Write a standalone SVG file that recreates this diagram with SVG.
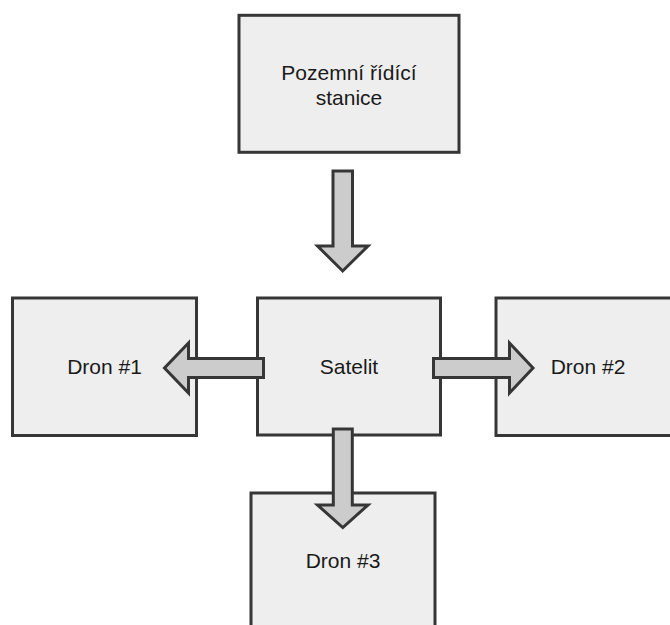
<svg xmlns="http://www.w3.org/2000/svg" width="670" height="625" viewBox="0 0 670 625">
<style>
.box{fill:#eeeeee;stroke:#363636;stroke-width:3}
.arr{fill:#cccccc;stroke:#363636;stroke-width:3;stroke-linejoin:miter}
.lbl{font-family:"Liberation Sans",Arial,sans-serif;font-size:21px;fill:#1a1a1a;text-anchor:middle}
</style>
<rect width="670" height="625" fill="#ffffff"/>
<g id="ground">
<rect class="box" x="239" y="15.3" width="220" height="137"/>
<text class="lbl" x="349" y="80">Pozemní řídící</text>
<text class="lbl" x="349" y="105">stanice</text>
</g>
<g id="dron1">
<rect class="box" x="12.5" y="298" width="184" height="137.5"/>
<text class="lbl" x="104.5" y="373.5">Dron #1</text>
</g>
<g id="satelit">
<rect class="box" x="257.5" y="298" width="183" height="137"/>
<text class="lbl" x="349" y="373.5">Satelit</text>
</g>
<g id="dron2">
<rect class="box" x="496" y="298" width="184" height="137.5"/>
<text class="lbl" x="588" y="373.5">Dron #2</text>
</g>
<g id="dron3">
<rect class="box" x="251" y="493" width="184" height="137"/>
<text class="lbl" x="343" y="568">Dron #3</text>
</g>
<g id="connectors">
<polygon class="arr" points="333,171 352.5,171 352.5,246 368,246 342.7,271 317.5,246 333,246"/>
<polygon class="arr" points="263.5,358.5 263.5,377.5 188.5,377.5 188.5,393 164.5,368 188.5,343 188.5,358.5"/>
<polygon class="arr" points="433.5,358.5 433.5,377.5 509.5,377.5 509.5,393 533,368 509.5,343 509.5,358.5"/>
<polygon class="arr" points="333.3,429 352.3,429 352.3,505 368,505 342.8,527.5 317.5,505 333.3,505"/>
</g>
</svg>
